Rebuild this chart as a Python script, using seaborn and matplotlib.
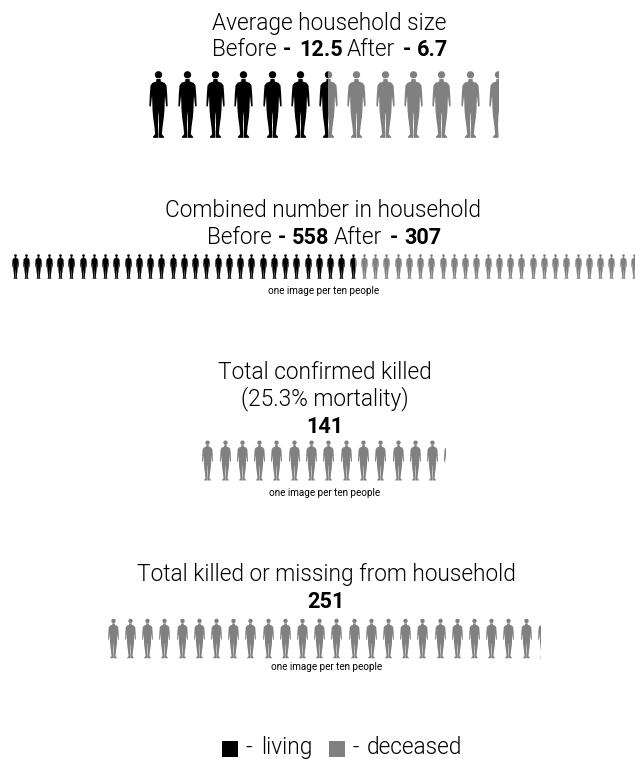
import matplotlib
matplotlib.use("Agg")
import matplotlib.pyplot as plt
from matplotlib.path import Path
from matplotlib.patches import Rectangle
import numpy as np
import seaborn as sns

# ---- data (number of images in each row; one image = one person or ten people)
household_living = 6.5
household_total = 12.5
combined_living = 30.7
combined_total = 55.8
confirmed_total = 14.1
missing_total = 25.1

BLACK = "#000000"
GREY = "#808080"
W, H = 635, 759
sns.set_theme(style="white")
plt.rcParams["font.family"] = ["Roboto", "DejaVu Sans"]
FONT = 16.3
BOLD = 15.6
NOTE = 7.1
fig = plt.figure(figsize=(W / 100, H / 100), dpi=100, facecolor="white")


def person_marker():
    half = [(0, 56), (6, 56), (7, 64), (18, 68), (24, 76), (26, 102), (27.5, 138), (23, 139),
            (20, 112), (19.3, 108), (18.5, 130), (18, 148), (16, 172), (12.5, 197), (10, 222),
            (17, 230), (16, 233), (0.8, 233), (0.8, 222), (1.5, 195), (0.8, 165), (0, 155)]
    right = [(x, y) for x, y in half]
    left = [(-x, y) for x, y in reversed(half[1:-1])]
    pts = np.array(right + left, float)
    pts[:, 1] = 133 - pts[:, 1]          # centre vertically, y up
    body = Path(np.vstack([pts, pts[0]]), closed=True)
    head = Path.circle((0, 133 - 44), 11)
    return Path.make_compound_path(head, body)


MARKER = person_marker()


def px_axes(x0, x1, yc, h):
    return fig.add_axes([x0 / W, 1 - (yc + h / 2 + 2) / H, (x1 - x0) / W, (h + 4) / H])


def draw_row(living, total, left, pitch, offset, yc, height, right_limit=W):
    """Draw a row of figures: x axis counts images, the row stops at `total`."""
    positions = np.arange(int(np.ceil(total)) + 1) + offset
    segments = [(0, living, BLACK), (living, total, GREY)]
    for start, stop, colour in segments:
        if stop <= start:
            continue
        x0, x1 = left + start * pitch, min(left + stop * pitch, right_limit)
        ax = px_axes(x0, x1, yc, height)
        sns.scatterplot(x=positions, y=np.full(positions.shape, 0.5), marker=MARKER,
                        s=(height * 0.72) ** 2, color=colour, linewidth=0, ax=ax, legend=False)
        ax.set_xlim(start, start + (x1 - x0) / pitch)
        ax.set_ylim(0, 1)
        ax.set_axis_off()


def text(x, y, s, size=FONT, weight=300, ha="center"):
    fig.text(x / W, 1 - y / H, s, fontsize=size, fontweight=weight, ha=ha, va="baseline",
             color="black")


def bold(x, y, s, ha="left"):
    text(x, y, s, size=BOLD, weight="bold", ha=ha)


def note(x, y):
    text(x, y, "one image per ten people", size=NOTE, weight="normal")


draw_row(household_living, household_total, 144.2, 28.3, 0.5, 104.3, 66.7)
draw_row(combined_living, combined_total, 9.4, 11.25, 0.5, 265.5, 24.5)
draw_row(0, confirmed_total, 200.8, 17.3, 0.37, 460, 40)
draw_row(0, missing_total, 108.3, 17.2, 0.26, 637.5, 39.5)

text(329.5, 30, "Average household size")
text(212.5, 56.3, "Before", ha="left")
bold(283, 56.3, "-")
bold(299, 56.3, "12.5")
text(347, 56.3, "After", ha="left")
bold(403, 56.3, "-")
bold(417, 56.3, "6.7")

text(323, 216.7, "Combined number in household")
text(207, 243.5, "Before", ha="left")
bold(278, 243.5, "-")
bold(292, 243.5, "558")
text(334, 243.5, "After", ha="left")
bold(390, 243.5, "-")
bold(404.5, 243.5, "307")
note(324, 294)

text(324.5, 378.7, "Total confirmed killed")
text(325, 405.5, "(25.3% mortality)")
bold(325, 433, "141", ha="center")
note(324.5, 495.5)

text(326.5, 581, "Total killed or missing from household")
bold(326, 608, "251", ha="center")
note(326.5, 670)

for x0, colour in ((222, BLACK), (329, GREY)):
    fig.add_artist(Rectangle((x0 / W, 1 - 757 / H), 16 / W, 16 / H, transform=fig.transFigure,
                             facecolor=colour, edgecolor="none"))
text(246, 754, "-", ha="left")
text(261, 754, "living", ha="left")
text(352.5, 754, "-", ha="left")
text(367, 754, "deceased", ha="left")

fig.savefig("out.png", dpi=100, facecolor="white")
